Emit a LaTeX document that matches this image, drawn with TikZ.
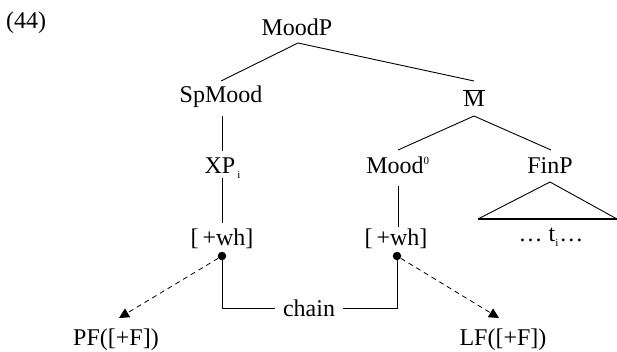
\documentclass[tikz,border=0pt]{standalone}
\usepackage{fontspec}
\setmainfont{Liberation Serif}
\usetikzlibrary{arrows.meta}
\tikzset{
  lbl/.style={anchor=base, inner sep=0pt, font=\fontsize{24}{28}\selectfont},
  edge/.style={line width=0.9pt},
  dotn/.style={circle, fill=black, inner sep=0pt, minimum size=8.5pt},
  dasharr/.style={line width=0.8pt, dash pattern=on 5pt off 4pt, -{Triangle[length=10pt,width=10pt]}}
}
\begin{document}
\begin{tikzpicture}[x=1pt,y=-1pt]
\useasboundingbox (0,0) rectangle (617,352);
% labels
\node[lbl, anchor=base west] (num) at (6,29) {(44)};
\node[lbl] (moodp) at (297,36) {MoodP};
\node[lbl] (spmood) at (221,103) {SpMood};
\node[lbl] (mbar) at (474,107) {$\overline{\mbox{M}}$};
\node[lbl] (xp) at (220,174) {XP\rlap{\kern2pt\raisebox{-5pt}{\fontsize{11}{11}\selectfont i}}};
\node[lbl] (mood0) at (398,174) {Mood\textsuperscript{\fontsize{11}{11}\selectfont 0}};
\node[lbl] (finp) at (550,174) {FinP};
\node[lbl] (wh1) at (222,245) {[\,+wh]};
\node[lbl] (wh2) at (396,245) {[\,+wh]};
\node[lbl] (ti) at (551,241) {\dots\ t\rlap{\raisebox{-5pt}{\fontsize{11}{11}\selectfont i}}\,\dots};
\node[lbl, anchor=center, inner xsep=8pt] (chain) at (309,308) {chain};
\node[lbl] (pf) at (116,345) {PF([+F])};
\node[lbl] (lf) at (503,345) {LF([+F])};
% dots
\node[dotn] (d1) at (222,256) {};
\node[dotn] (d2) at (397,256) {};
% tree coordinates
\coordinate (a0) at (298,43);
\coordinate (a1) at (221,81);
\coordinate (a2) at (474,81);
\coordinate (b0) at (474,116);
\coordinate (b1) at (398,150);
\coordinate (b2) at (551,150);
\coordinate (c0) at (222,116);
\coordinate (c1) at (222,151);
\coordinate (e0) at (222,178);
\coordinate (e1) at (222,223);
\coordinate (f0) at (398,186);
\coordinate (f1) at (398,227);
\coordinate (t0) at (550,182);
\coordinate (t1) at (478,219);
\coordinate (t2) at (617,219);
\coordinate (pftip) at (119,318);
\coordinate (lftip) at (499,318);
% tree lines
\draw[edge] (a1) -- (a0) -- (a2);
\draw[edge] (b1) -- (b0) -- (b2);
\draw[edge] (c0) -- (c1);
\draw[edge] (e0) -- (e1);
\draw[edge] (f0) -- (f1);
\draw[edge] (t1) -- (t0) -- (t2);
\draw[line width=1.8pt] (t1) -- (t2);
% chain
\draw[edge] (d1.center) |- (chain.west);
\draw[edge] (d2.center) |- (chain.east);
% dashed arrows
\draw[dasharr] (d1) -- (pftip);
\draw[dasharr] (d2) -- (lftip);
\end{tikzpicture}
\end{document}
